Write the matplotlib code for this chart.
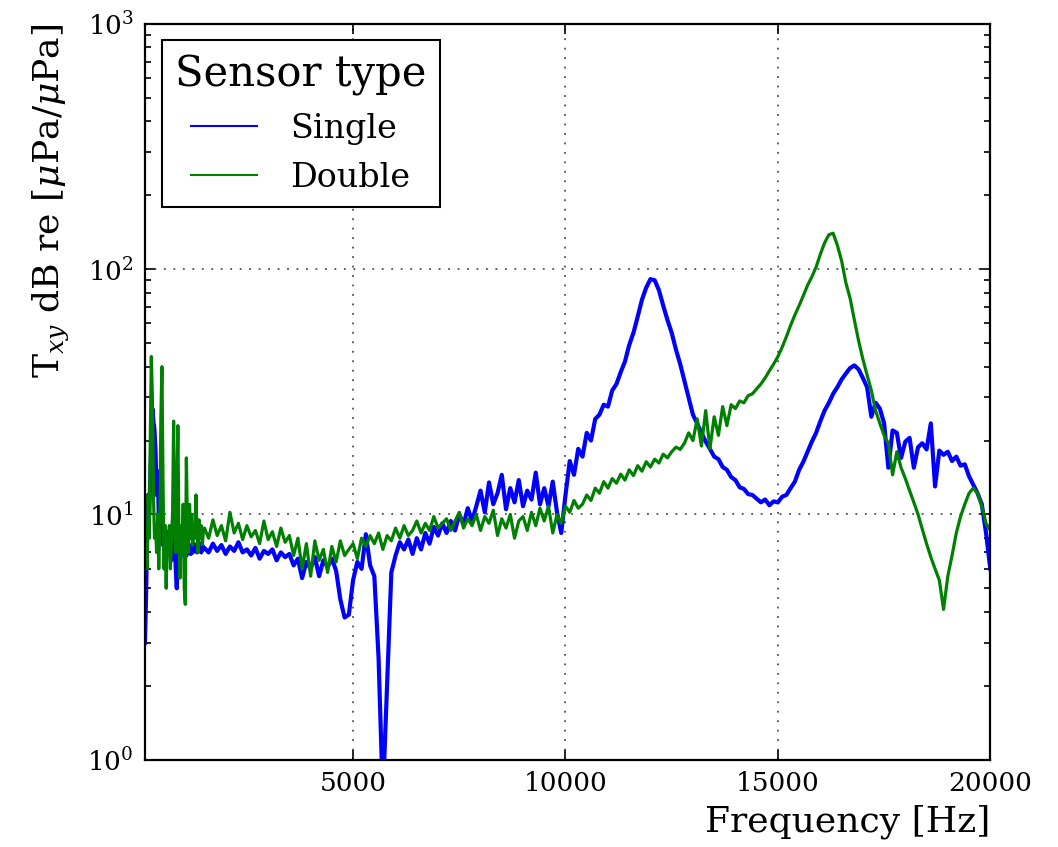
import matplotlib
matplotlib.use("Agg")
import matplotlib.pyplot as plt
import numpy as np

# frequency grid: fine at the low end, 100 Hz steps above 1.5 kHz
freq_low = np.arange(100, 1500, 25)
freq_main = np.arange(1500, 20001, 100)
freq = np.concatenate([freq_low, freq_main])

# single sensor
single_low = [3.0, 4.5, 8, 12, 10, 14, 20, 27, 24, 22,
              18, 12, 15, 10, 11, 8.5, 9.5, 7.5, 9, 6.0,
              8, 7.5, 8.5, 7, 8, 6.5, 7.5, 7, 8.5, 6,
              5, 7, 8, 7, 7.5, 6.8, 7.6, 7, 7.8, 6.8,
              7.4, 7, 7.5, 6.9, 7.3, 7.0, 7.6, 7.1, 7.5, 7.0,
              7.4, 7.1, 7.6, 7.0, 7.5, 7.2]
single_main = [7.3, 7.0, 7.6, 7.1, 7.5, 6.9, 7.4, 7.1, 7.7, 7.0,
               7.2, 6.8, 7.3, 6.6, 7.1, 6.9, 7.2, 6.5, 7.0, 6.7,
               6.9, 6.2, 6.6, 5.5, 6.4, 6.0, 6.7, 5.6, 6.5, 6.1,
               6.6, 5.9, 4.5, 3.8, 3.9, 5.4, 6.4, 6.0, 8.3, 6.2,
               5.6, 2.6, 0.7, 2.0, 5.8, 6.8, 7.7, 7.2, 7.9, 6.9,
               8.0, 7.2, 8.4, 7.6, 8.9, 8.2, 9.2, 8.4, 9.4, 8.6,
               10.0, 9.1, 10.6, 9.4, 10.8, 12.5, 10.2, 13.5, 11.0, 12.2,
               14.5, 10.5, 12.8, 11.2, 13.8, 10.8, 12.5, 11.5, 14.8, 11.0,
               12.8, 10.8, 13.6, 10.2, 8.4, 12.0, 16.5, 14.5, 18.5, 17.2,
               21.5, 20.0, 24.5, 25.5, 28.0, 27.5, 32.0, 34.0, 38.0, 42.0,
               49, 55, 64, 75, 84, 91, 90, 82, 71, 62,
               55, 47, 41, 35, 30, 25.5, 23.5, 21.5, 19.8, 18.5,
               17.2, 16.8, 15.6, 15.2, 14.2, 13.8, 12.9, 12.7, 12.1, 12.0,
               11.6, 11.2, 11.5, 10.9, 11.3, 11.2, 11.8, 12.0, 12.8, 13.6,
               15.2, 16.4, 18.0, 19.8, 21.5, 24.0, 26.5, 28.5, 31.0, 33.0,
               35.5, 37.5, 39.5, 40.5, 39.0, 36.0, 33.0, 25.0, 28.5, 27.0,
               23.5, 15.5, 22.0, 21.5, 17.0, 19.8, 20.5, 15.5, 18.8, 19.5,
               18.4, 23.5, 13.0, 18.2, 17.5, 18.0, 16.5, 17.2, 15.8, 16.0,
               14.3, 13.2, 12.2, 11.0, 8.4, 6.0]

# double sensor
double_low = [7, 9, 6, 12, 8, 20, 44, 30, 12, 8,
              9, 7, 10, 6, 9, 25, 40, 14, 6, 9,
              5, 8, 7, 9, 6, 8, 10, 24, 9, 7,
              12, 23, 8, 5.5, 9, 7, 11, 5, 4.3, 17,
              9, 7, 11, 8, 10, 7.5, 9, 8, 12, 8.5,
              7, 9.5, 8, 9, 7.5, 8.5]
double_main = [8.8, 8.0, 9.5, 8.2, 9.0, 7.8, 10.2, 8.4, 9.2, 7.9,
               9.0, 8.1, 8.6, 7.6, 9.4, 7.9, 8.5, 7.4, 8.8, 7.7,
               8.2, 6.8, 8.0, 6.0, 7.6, 5.6, 7.8, 6.5, 7.2, 5.8,
               7.4, 6.4, 7.8, 6.8, 7.2, 7.6, 6.6, 8.0, 7.4, 8.2,
               7.6, 8.4, 7.2, 8.2, 7.8, 8.8, 8.0, 9.0, 8.2, 8.6,
               9.4, 8.4, 9.2, 8.6, 9.8, 8.8, 9.2, 9.6, 8.6, 9.4,
               10.2, 8.8, 9.6, 9.0, 10.0, 8.6, 9.8, 9.2, 10.4, 8.2,
               9.6, 8.8, 10.0, 8.0, 9.4, 9.8, 8.6, 10.2, 9.0, 10.6,
               9.4, 10.8, 8.4, 10.0, 9.2, 10.8, 10.2, 11.4, 10.6, 11.0,
               12.0, 11.4, 12.8, 12.2, 13.6, 12.8, 14.0, 13.4, 14.6, 13.8,
               15.2, 14.4, 15.8, 15.0, 16.4, 15.6, 16.8, 16.2, 17.6, 17.0,
               18.0, 18.8, 18.4, 19.5, 21.5, 20.0, 24.5, 19.0, 26.5, 18.5,
               25.0, 21.0, 27.5, 23.0, 28.0, 27.0, 29.0, 28.5, 30.5, 31.0,
               32.5, 34.0, 36.0, 38.5, 41.0, 44.0, 48.0, 53.0, 59.0, 65.0,
               71, 78, 86, 93, 102, 115, 128, 138, 140, 125,
               108, 88, 76, 62, 51, 43, 37, 32, 26.5, 23.5,
               21.0, 19.5, 14.5, 18.0, 15.5, 14.0, 12.5, 11.2, 10.0, 8.7,
               7.6, 6.7, 6.0, 5.4, 4.1, 5.6, 6.8, 8.4, 9.8, 11.0,
               12.2, 12.8, 12.2, 10.8, 9.2, 8.6]

single = np.array(single_low + single_main)
double = np.array(double_low + double_main)

plt.rcParams["font.family"] = "DejaVu Serif"
plt.rcParams["mathtext.fontset"] = "dejavuserif"

fig = plt.figure(figsize=(10.58, 8.47), dpi=100)
ax = fig.add_axes([0.137, 0.103, 0.799, 0.869])

ax.plot(freq, single, color="b", lw=3.0, label="Single")
ax.plot(freq, double, color="g", lw=2.3, label="Double")

ax.set_yscale("log")
ax.set_xlim(100, 20000)
ax.set_ylim(1, 1000)
ax.set_xticks([5000, 10000, 15000, 20000])
ax.grid(True, which="major", color="#333333", linestyle=(0, (1.2, 5)), linewidth=1.1)

ax.tick_params(which="both", direction="in", top=True, right=True, labelsize=19, width=1.2)
ax.tick_params(which="major", length=7, pad=8)
ax.tick_params(which="minor", length=4)
for sp in ax.spines.values():
    sp.set_linewidth(1.6)

ax.set_xlabel("Frequency [Hz]", fontsize=26, x=1.0, ha="right", labelpad=6)
ax.set_ylabel(r"T$_{xy}$ dB re [$\mu$Pa/$\mu$Pa]", fontsize=26, y=1.0, ha="right", labelpad=12)

leg = ax.legend(loc="upper left", title="Sensor type", fontsize=24, title_fontsize=30,
                fancybox=False, framealpha=1, edgecolor="k", handlelength=2, handletextpad=1.0)
leg.get_frame().set_linewidth(1.5)
for h in leg.get_lines():
    h.set_linewidth(1.5)

fig.savefig("out.png", dpi=100)
